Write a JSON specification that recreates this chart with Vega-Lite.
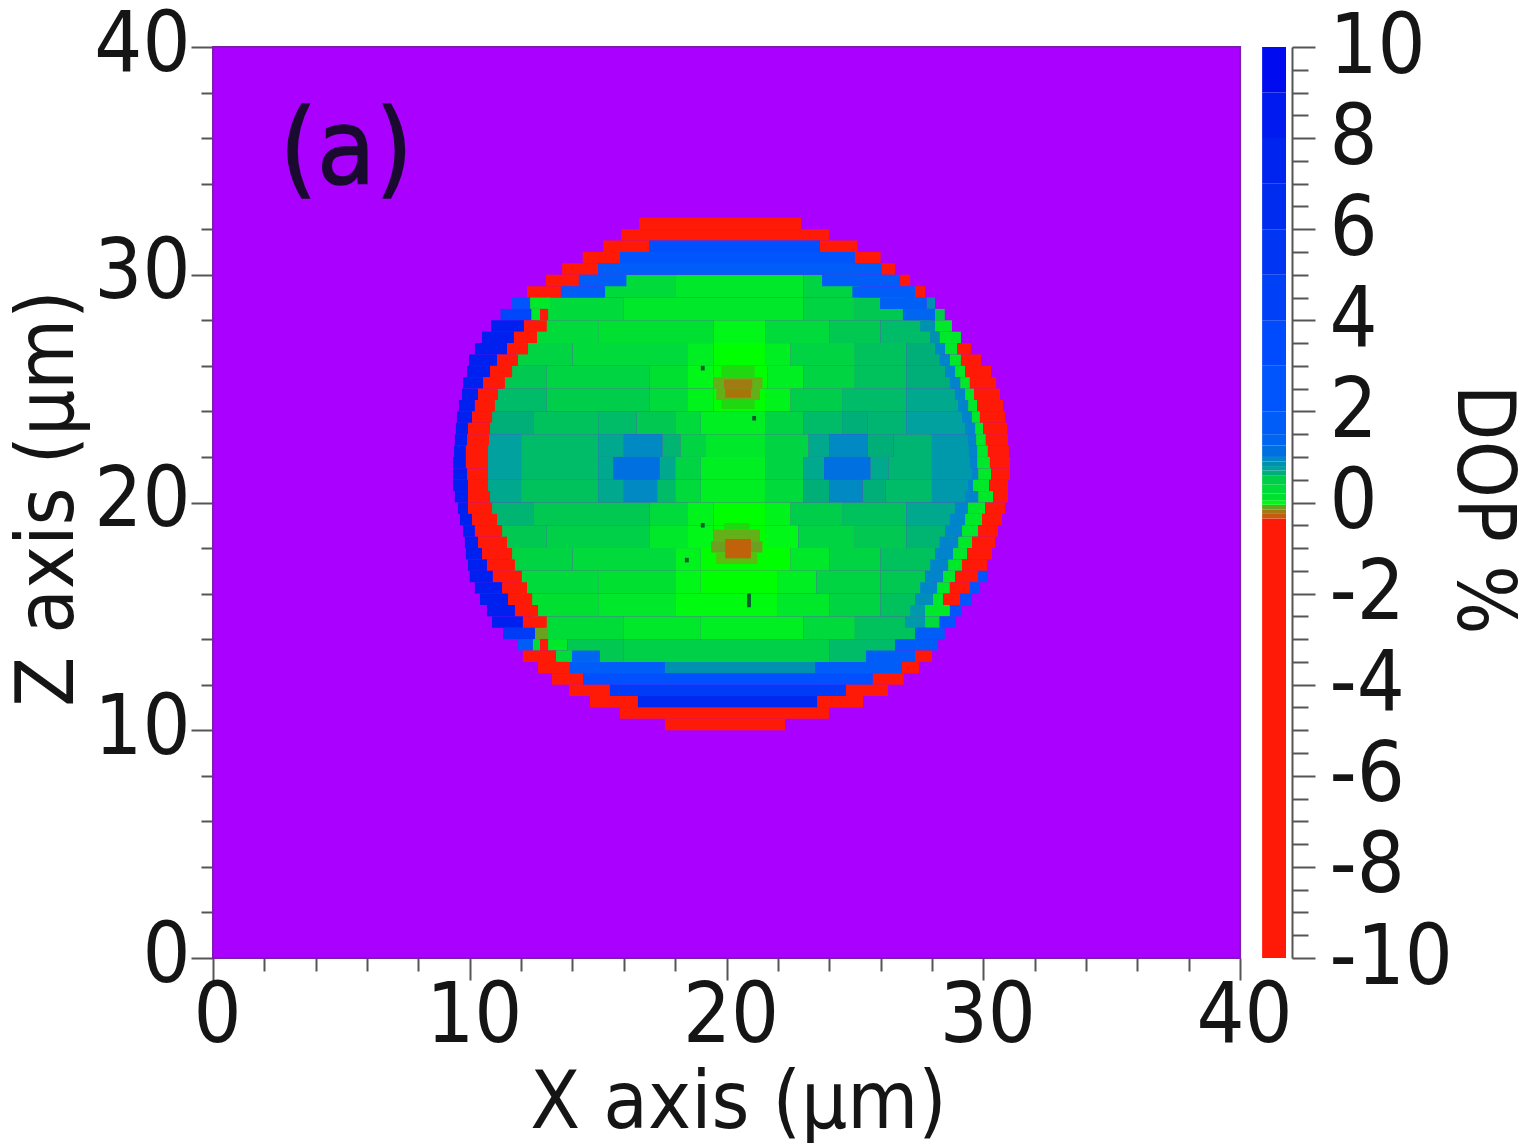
{
"$schema":"https://vega.github.io/schema/vega-lite/v6.json",
"padding":{"left":7,"top":3,"right":0,"bottom":0},
"background":"white",
"width":1073,
"height":911,
"config":{"view":{"stroke":null},"font":"DejaVu Sans Condensed","axis":{"labelFont":"DejaVu Sans Condensed","titleFont":"DejaVu Sans Condensed","labelFontSize":84,"titleFontSize":81,"labelColor":"#151515","titleColor":"#151515","titleFontWeight":"normal","labelFlush":false,"grid":false,"tickColor":"#555555","tickWidth":2,"domainColor":"#555555","domainWidth":2}},
"datasets":{
"plate":[{"x0":0,"x1":40,"z0":0,"z1":40}],
"tag":[{"x":2.6,"z":35.4,"label":"(a)"}],
"specks":[{"x0":19.0,"x1":19.15,"z0":25.8,"z1":26.0},{"x0":21.0,"x1":21.15,"z0":23.6,"z1":23.8},{"x0":19.0,"x1":19.15,"z0":18.9,"z1":19.1},{"x0":18.38,"x1":18.53,"z0":17.37,"z1":17.57},{"x0":20.8,"x1":20.95,"z0":15.4,"z1":16.0}],
"bar":[{"x0":40.86,"x1":41.79,"v0":-10,"v1":-0.35,"dop":-5},{"x0":40.86,"x1":41.79,"v0":-0.35,"v1":-0.25,"dop":-0.3},{"x0":40.86,"x1":41.79,"v0":-0.25,"v1":-0.15,"dop":-0.2},{"x0":40.86,"x1":41.79,"v0":-0.15,"v1":-0.05,"dop":-0.1},{"x0":40.86,"x1":41.79,"v0":-0.05,"v1":0.05,"dop":0.1},{"x0":40.86,"x1":41.79,"v0":0.05,"v1":0.2,"dop":0.25},{"x0":40.86,"x1":41.79,"v0":0.2,"v1":0.4,"dop":0.3},{"x0":40.86,"x1":41.79,"v0":0.4,"v1":0.6,"dop":0.4},{"x0":40.86,"x1":41.79,"v0":0.6,"v1":0.7,"dop":0.65},{"x0":40.86,"x1":41.79,"v0":0.7,"v1":0.8,"dop":0.75},{"x0":40.86,"x1":41.79,"v0":0.8,"v1":0.9,"dop":0.85},{"x0":40.86,"x1":41.79,"v0":0.9,"v1":1,"dop":0.95},{"x0":40.86,"x1":41.79,"v0":1,"v1":1.25,"dop":1.15},{"x0":40.86,"x1":41.79,"v0":1.25,"v1":1.5,"dop":1.4},{"x0":40.86,"x1":41.79,"v0":1.5,"v1":2,"dop":1.8},{"x0":40.86,"x1":41.79,"v0":2,"v1":3,"dop":2.5},{"x0":40.86,"x1":41.79,"v0":3,"v1":4,"dop":3.5},{"x0":40.86,"x1":41.79,"v0":4,"v1":5,"dop":4.5},{"x0":40.86,"x1":41.79,"v0":5,"v1":6,"dop":5.5},{"x0":40.86,"x1":41.79,"v0":6,"v1":7,"dop":6.5},{"x0":40.86,"x1":41.79,"v0":7,"v1":8,"dop":7.5},{"x0":40.86,"x1":41.79,"v0":8,"v1":9,"dop":8.5},{"x0":40.86,"x1":41.79,"v0":9,"v1":10,"dop":9.5}],
"cells":[
{"x0":15.2,"x1":18,"z0":29,"z1":30,"dop":0.3},{"x0":18,"x1":23,"z0":29,"z1":30,"dop":0.2},{"x0":23,"x1":25.2,"z0":29,"z1":30,"dop":0.35},
{"x0":13,"x1":16,"z0":28,"z1":29,"dop":0.3},{"x0":16,"x1":23,"z0":28,"z1":29,"dop":0.2},{"x0":23,"x1":25,"z0":28,"z1":29,"dop":0.35},{"x0":25,"x1":27,"z0":28,"z1":29,"dop":0.45},
{"x0":12.6,"x1":15,"z0":27,"z1":28,"dop":0.3},{"x0":15,"x1":19.5,"z0":27,"z1":28,"dop":0.25},{"x0":19.5,"x1":21.5,"z0":27,"z1":28,"dop":0.1},{"x0":21.5,"x1":24,"z0":27,"z1":28,"dop":0.3},{"x0":24,"x1":26,"z0":27,"z1":28,"dop":0.45},{"x0":26,"x1":28,"z0":27,"z1":28,"dop":0.55},
{"x0":11.8,"x1":14,"z0":26,"z1":27,"dop":0.35},{"x0":14,"x1":18.5,"z0":26,"z1":27,"dop":0.3},{"x0":18.5,"x1":19.5,"z0":26,"z1":27,"dop":0.15},{"x0":19.5,"x1":21.5,"z0":26,"z1":27,"dop":0.05},{"x0":21.5,"x1":22.5,"z0":26,"z1":27,"dop":0.15},{"x0":22.5,"x1":25,"z0":26,"z1":27,"dop":0.35},{"x0":25,"x1":27,"z0":26,"z1":27,"dop":0.5},{"x0":27,"x1":28.4,"z0":26,"z1":27,"dop":0.65},
{"x0":11.3,"x1":13,"z0":25,"z1":26,"dop":0.45},{"x0":13,"x1":17,"z0":25,"z1":26,"dop":0.35},{"x0":17,"x1":18.5,"z0":25,"z1":26,"dop":0.25},{"x0":18.5,"x1":19.5,"z0":25,"z1":26,"dop":0.1},{"x0":19.5,"x1":21.6,"z0":25,"z1":26,"dop":0.05},{"x0":21.6,"x1":23,"z0":25,"z1":26,"dop":0.15},{"x0":23,"x1":25,"z0":25,"z1":26,"dop":0.35},{"x0":25,"x1":27,"z0":25,"z1":26,"dop":0.5},{"x0":27,"x1":28.8,"z0":25,"z1":26,"dop":0.65},
{"x0":10.9,"x1":13,"z0":24,"z1":25,"dop":0.55},{"x0":13,"x1":17,"z0":24,"z1":25,"dop":0.4},{"x0":17,"x1":18.5,"z0":24,"z1":25,"dop":0.3},{"x0":18.5,"x1":19.5,"z0":24,"z1":25,"dop":0.12},{"x0":19.5,"x1":21.5,"z0":24,"z1":25,"dop":0.05},{"x0":21.5,"x1":22.5,"z0":24,"z1":25,"dop":0.12},{"x0":22.5,"x1":24.5,"z0":24,"z1":25,"dop":0.4},{"x0":24.5,"x1":27,"z0":24,"z1":25,"dop":0.55},{"x0":27,"x1":29.2,"z0":24,"z1":25,"dop":0.7},
{"x0":10.75,"x1":12.5,"z0":23,"z1":24,"dop":0.65},{"x0":12.5,"x1":15,"z0":23,"z1":24,"dop":0.5},{"x0":15,"x1":16.5,"z0":23,"z1":24,"dop":0.55},{"x0":16.5,"x1":18,"z0":23,"z1":24,"dop":0.45},{"x0":18,"x1":19,"z0":23,"z1":24,"dop":0.3},{"x0":19,"x1":21.5,"z0":23,"z1":24,"dop":0.15},{"x0":21.5,"x1":23,"z0":23,"z1":24,"dop":0.35},{"x0":23,"x1":24.5,"z0":23,"z1":24,"dop":0.55},{"x0":24.5,"x1":25.5,"z0":23,"z1":24,"dop":0.65},{"x0":25.5,"x1":27,"z0":23,"z1":24,"dop":0.6},{"x0":27,"x1":29.4,"z0":23,"z1":24,"dop":0.75},
{"x0":10.7,"x1":12,"z0":22,"z1":23,"dop":0.75},{"x0":12,"x1":15,"z0":22,"z1":23,"dop":0.55},{"x0":15,"x1":16,"z0":22,"z1":23,"dop":0.7},{"x0":16,"x1":17.5,"z0":22,"z1":23,"dop":0.95},{"x0":17.5,"x1":18.2,"z0":22,"z1":23,"dop":0.6},{"x0":18.2,"x1":19.2,"z0":22,"z1":23,"dop":0.35},{"x0":19.2,"x1":21.5,"z0":22,"z1":23,"dop":0.2},{"x0":21.5,"x1":23.2,"z0":22,"z1":23,"dop":0.35},{"x0":23.2,"x1":24,"z0":22,"z1":23,"dop":0.7},{"x0":24,"x1":25.5,"z0":22,"z1":23,"dop":0.95},{"x0":25.5,"x1":26.5,"z0":22,"z1":23,"dop":0.65},{"x0":26.5,"x1":28,"z0":22,"z1":23,"dop":0.6},{"x0":28,"x1":29.5,"z0":22,"z1":23,"dop":0.8},
{"x0":10.7,"x1":12,"z0":21,"z1":22,"dop":0.75},{"x0":12,"x1":15,"z0":21,"z1":22,"dop":0.55},{"x0":15,"x1":15.6,"z0":21,"z1":22,"dop":0.7},{"x0":15.6,"x1":17.4,"z0":21,"z1":22,"dop":1.15},{"x0":17.4,"x1":18,"z0":21,"z1":22,"dop":0.7},{"x0":18,"x1":19,"z0":21,"z1":22,"dop":0.35},{"x0":19,"x1":21.5,"z0":21,"z1":22,"dop":0.15},{"x0":21.5,"x1":23,"z0":21,"z1":22,"dop":0.35},{"x0":23,"x1":23.8,"z0":21,"z1":22,"dop":0.7},{"x0":23.8,"x1":25.6,"z0":21,"z1":22,"dop":1.15},{"x0":25.6,"x1":26.3,"z0":21,"z1":22,"dop":0.7},{"x0":26.3,"x1":28,"z0":21,"z1":22,"dop":0.6},{"x0":28,"x1":29.6,"z0":21,"z1":22,"dop":0.8},
{"x0":10.7,"x1":12,"z0":20,"z1":21,"dop":0.7},{"x0":12,"x1":15,"z0":20,"z1":21,"dop":0.5},{"x0":15,"x1":16,"z0":20,"z1":21,"dop":0.7},{"x0":16,"x1":17.3,"z0":20,"z1":21,"dop":0.95},{"x0":17.3,"x1":18,"z0":20,"z1":21,"dop":0.55},{"x0":18,"x1":19,"z0":20,"z1":21,"dop":0.3},{"x0":19,"x1":21.5,"z0":20,"z1":21,"dop":0.15},{"x0":21.5,"x1":23,"z0":20,"z1":21,"dop":0.3},{"x0":23,"x1":24,"z0":20,"z1":21,"dop":0.65},{"x0":24,"x1":25.3,"z0":20,"z1":21,"dop":0.95},{"x0":25.3,"x1":26.2,"z0":20,"z1":21,"dop":0.65},{"x0":26.2,"x1":28,"z0":20,"z1":21,"dop":0.55},{"x0":28,"x1":29.5,"z0":20,"z1":21,"dop":0.8},
{"x0":10.8,"x1":12.5,"z0":19,"z1":20,"dop":0.6},{"x0":12.5,"x1":17,"z0":19,"z1":20,"dop":0.45},{"x0":17,"x1":18.5,"z0":19,"z1":20,"dop":0.3},{"x0":18.5,"x1":19.5,"z0":19,"z1":20,"dop":0.12},{"x0":19.5,"x1":21.5,"z0":19,"z1":20,"dop":0.05},{"x0":21.5,"x1":22.5,"z0":19,"z1":20,"dop":0.12},{"x0":22.5,"x1":24.5,"z0":19,"z1":20,"dop":0.4},{"x0":24.5,"x1":27,"z0":19,"z1":20,"dop":0.5},{"x0":27,"x1":29.3,"z0":19,"z1":20,"dop":0.7},
{"x0":11.2,"x1":13,"z0":18,"z1":19,"dop":0.45},{"x0":13,"x1":17,"z0":18,"z1":19,"dop":0.38},{"x0":17,"x1":18.5,"z0":18,"z1":19,"dop":0.2},{"x0":18.5,"x1":19.5,"z0":18,"z1":19,"dop":0.1},{"x0":19.5,"x1":21.5,"z0":18,"z1":19,"dop":0.05},{"x0":21.5,"x1":22.8,"z0":18,"z1":19,"dop":0.1},{"x0":22.8,"x1":25,"z0":18,"z1":19,"dop":0.35},{"x0":25,"x1":27,"z0":18,"z1":19,"dop":0.45},{"x0":27,"x1":28.9,"z0":18,"z1":19,"dop":0.6},
{"x0":11.6,"x1":14,"z0":17,"z1":18,"dop":0.35},{"x0":14,"x1":18,"z0":17,"z1":18,"dop":0.3},{"x0":18,"x1":19,"z0":17,"z1":18,"dop":0.12},{"x0":19,"x1":22.5,"z0":17,"z1":18,"dop":0.05},{"x0":22.5,"x1":24,"z0":17,"z1":18,"dop":0.2},{"x0":24,"x1":26,"z0":17,"z1":18,"dop":0.35},{"x0":26,"x1":28.3,"z0":17,"z1":18,"dop":0.5},
{"x0":12,"x1":15,"z0":16,"z1":17,"dop":0.3},{"x0":15,"x1":18,"z0":16,"z1":17,"dop":0.25},{"x0":18,"x1":19,"z0":16,"z1":17,"dop":0.1},{"x0":19,"x1":22,"z0":16,"z1":17,"dop":0.05},{"x0":22,"x1":23.5,"z0":16,"z1":17,"dop":0.15},{"x0":23.5,"x1":26,"z0":16,"z1":17,"dop":0.35},{"x0":26,"x1":28,"z0":16,"z1":17,"dop":0.45},
{"x0":12.4,"x1":15,"z0":15,"z1":16,"dop":0.25},{"x0":15,"x1":18,"z0":15,"z1":16,"dop":0.2},{"x0":18,"x1":22,"z0":15,"z1":16,"dop":0.08},{"x0":22,"x1":24,"z0":15,"z1":16,"dop":0.2},{"x0":24,"x1":26,"z0":15,"z1":16,"dop":0.35},{"x0":26,"x1":27.7,"z0":15,"z1":16,"dop":0.5},
{"x0":12.95,"x1":16,"z0":14,"z1":15,"dop":0.28},{"x0":16,"x1":19,"z0":14,"z1":15,"dop":0.2},{"x0":19,"x1":23,"z0":14,"z1":15,"dop":0.15},{"x0":23,"x1":25,"z0":14,"z1":15,"dop":0.3},{"x0":25,"x1":27.4,"z0":14,"z1":15,"dop":0.5},
{"x0":13.8,"x1":16,"z0":13,"z1":14,"dop":0.45},{"x0":16,"x1":24,"z0":13,"z1":14,"dop":0.38},{"x0":24,"x1":26.6,"z0":13,"z1":14,"dop":0.55},
{"x0":15,"x1":25.5,"z0":12.5,"z1":13,"dop":0.85},
{"x0":19.8,"x1":21.1,"z0":25.5,"z1":26,"dop":-0.03},{"x0":19.5,"x1":21.4,"z0":25,"z1":25.5,"dop":-0.08},{"x0":19.6,"x1":21.3,"z0":24.5,"z1":25,"dop":-0.08},{"x0":19.9,"x1":21,"z0":25,"z1":25.4,"dop":-0.2},{"x0":19.95,"x1":20.95,"z0":24.6,"z1":25,"dop":-0.22},{"x0":19.8,"x1":21.1,"z0":24.1,"z1":24.5,"dop":-0.03},
{"x0":19.9,"x1":20.9,"z0":18.8,"z1":19.1,"dop":-0.03},{"x0":19.5,"x1":21.3,"z0":18.3,"z1":18.8,"dop":-0.08},{"x0":19.4,"x1":21.4,"z0":17.8,"z1":18.3,"dop":-0.1},{"x0":19.6,"x1":21.2,"z0":17.3,"z1":17.8,"dop":-0.06},{"x0":19.95,"x1":20.95,"z0":17.55,"z1":18.4,"dop":-0.28},
{"x0":16.6,"x1":22.9,"z0":32,"z1":32.5,"dop":-5},
{"x0":15.9,"x1":24,"z0":31.5,"z1":32,"dop":-5},
{"x0":15.2,"x1":17,"z0":31,"z1":31.5,"dop":-5},{"x0":17,"x1":23.64,"z0":31,"z1":31.5,"dop":3},{"x0":23.64,"x1":25.1,"z0":31,"z1":31.5,"dop":-5},
{"x0":14.4,"x1":15.85,"z0":30.5,"z1":31,"dop":-5},{"x0":15.85,"x1":25,"z0":30.5,"z1":31,"dop":2.5},{"x0":25,"x1":26,"z0":30.5,"z1":31,"dop":-5},
{"x0":13.6,"x1":15,"z0":30,"z1":30.5,"dop":-5},{"x0":15,"x1":26.05,"z0":30,"z1":30.5,"dop":1.8},{"x0":26.05,"x1":26.56,"z0":30,"z1":30.5,"dop":-5},
{"x0":12.97,"x1":14.25,"z0":29.5,"z1":30,"dop":-5},{"x0":14.25,"x1":16.1,"z0":29.5,"z1":30,"dop":1.8},{"x0":23.72,"x1":26.76,"z0":29.5,"z1":30,"dop":1.8},{"x0":26.76,"x1":27.15,"z0":29.5,"z1":30,"dop":-5},
{"x0":12.23,"x1":13.55,"z0":29,"z1":29.5,"dop":-5},{"x0":13.55,"x1":15.27,"z0":29,"z1":29.5,"dop":1.8},{"x0":24.9,"x1":27.34,"z0":29,"z1":29.5,"dop":1.8},{"x0":27.34,"x1":27.73,"z0":29,"z1":29.5,"dop":-5},
{"x0":11.65,"x1":12.35,"z0":28.5,"z1":29,"dop":2.5},{"x0":12.35,"x1":13.13,"z0":28.5,"z1":29,"dop":0.2},{"x0":25.98,"x1":27.8,"z0":28.5,"z1":29,"dop":1.5},{"x0":27.8,"x1":28.12,"z0":28.5,"z1":29,"dop":0.85},
{"x0":11.2,"x1":12.4,"z0":28,"z1":28.5,"dop":4},{"x0":12.4,"x1":12.74,"z0":28,"z1":28.5,"dop":0.2},{"x0":12.74,"x1":13.05,"z0":28,"z1":28.5,"dop":-5},{"x0":26.87,"x1":28.12,"z0":28,"z1":28.5,"dop":1.4},{"x0":28.12,"x1":28.5,"z0":28,"z1":28.5,"dop":0.4},
{"x0":10.83,"x1":12.11,"z0":27.5,"z1":28,"dop":8},{"x0":12.11,"x1":13,"z0":27.5,"z1":28,"dop":-5},{"x0":27.54,"x1":28.12,"z0":27.5,"z1":28,"dop":0.85},{"x0":28.12,"x1":28.78,"z0":27.5,"z1":28,"dop":0.2},
{"x0":10.48,"x1":11.72,"z0":27,"z1":27.5,"dop":8},{"x0":11.72,"x1":12.62,"z0":27,"z1":27.5,"dop":-5},{"x0":27.93,"x1":28.3,"z0":27,"z1":27.5,"dop":0.85},{"x0":28.3,"x1":29.13,"z0":27,"z1":27.5,"dop":0.2},
{"x0":10.2,"x1":11.45,"z0":26.5,"z1":27,"dop":8},{"x0":11.45,"x1":12.27,"z0":26.5,"z1":27,"dop":-5},{"x0":28.12,"x1":28.51,"z0":26.5,"z1":27,"dop":1},{"x0":28.51,"x1":28.98,"z0":26.5,"z1":27,"dop":0.2},{"x0":28.98,"x1":29.52,"z0":26.5,"z1":27,"dop":-5},
{"x0":9.97,"x1":11.06,"z0":26,"z1":26.5,"dop":8},{"x0":11.06,"x1":11.88,"z0":26,"z1":26.5,"dop":-5},{"x0":28.3,"x1":28.7,"z0":26,"z1":26.5,"dop":1},{"x0":28.7,"x1":29.13,"z0":26,"z1":26.5,"dop":0.2},{"x0":29.13,"x1":29.91,"z0":26,"z1":26.5,"dop":-5},
{"x0":9.9,"x1":10.79,"z0":25.5,"z1":26,"dop":8},{"x0":10.79,"x1":11.65,"z0":25.5,"z1":26,"dop":-5},{"x0":28.51,"x1":28.9,"z0":25.5,"z1":26,"dop":1},{"x0":28.9,"x1":29.29,"z0":25.5,"z1":26,"dop":0.2},{"x0":29.29,"x1":30.3,"z0":25.5,"z1":26,"dop":-5},
{"x0":9.74,"x1":10.52,"z0":25,"z1":25.5,"dop":8},{"x0":10.52,"x1":11.37,"z0":25,"z1":25.5,"dop":-5},{"x0":28.7,"x1":29.1,"z0":25,"z1":25.5,"dop":1},{"x0":29.1,"x1":29.48,"z0":25,"z1":25.5,"dop":0.2},{"x0":29.48,"x1":30.5,"z0":25,"z1":25.5,"dop":-5},
{"x0":9.7,"x1":10.32,"z0":24.5,"z1":25,"dop":8},{"x0":10.32,"x1":11.1,"z0":24.5,"z1":25,"dop":-5},{"x0":28.9,"x1":29.29,"z0":24.5,"z1":25,"dop":1},{"x0":29.29,"x1":29.64,"z0":24.5,"z1":25,"dop":0.2},{"x0":29.64,"x1":30.65,"z0":24.5,"z1":25,"dop":-5},
{"x0":9.58,"x1":10.2,"z0":24,"z1":24.5,"dop":8},{"x0":10.2,"x1":10.98,"z0":24,"z1":24.5,"dop":-5},{"x0":29.02,"x1":29.41,"z0":24,"z1":24.5,"dop":1},{"x0":29.41,"x1":29.76,"z0":24,"z1":24.5,"dop":0.2},{"x0":29.76,"x1":30.77,"z0":24,"z1":24.5,"dop":-5},
{"x0":9.5,"x1":10.09,"z0":23.5,"z1":24,"dop":8},{"x0":10.09,"x1":10.87,"z0":23.5,"z1":24,"dop":-5},{"x0":29.17,"x1":29.56,"z0":23.5,"z1":24,"dop":1},{"x0":29.56,"x1":29.87,"z0":23.5,"z1":24,"dop":0.2},{"x0":29.87,"x1":30.85,"z0":23.5,"z1":24,"dop":-5},
{"x0":9.46,"x1":9.93,"z0":23,"z1":23.5,"dop":8},{"x0":9.93,"x1":10.79,"z0":23,"z1":23.5,"dop":-5},{"x0":29.29,"x1":29.68,"z0":23,"z1":23.5,"dop":1},{"x0":29.68,"x1":29.99,"z0":23,"z1":23.5,"dop":0.2},{"x0":29.99,"x1":30.93,"z0":23,"z1":23.5,"dop":-5},
{"x0":9.42,"x1":9.9,"z0":22.5,"z1":23,"dop":8},{"x0":9.9,"x1":10.75,"z0":22.5,"z1":23,"dop":-5},{"x0":29.4,"x1":29.72,"z0":22.5,"z1":23,"dop":1},{"x0":29.72,"x1":30.1,"z0":22.5,"z1":23,"dop":0.2},{"x0":30.1,"x1":30.96,"z0":22.5,"z1":23,"dop":-5},
{"x0":9.39,"x1":9.85,"z0":22,"z1":22.5,"dop":8},{"x0":9.85,"x1":10.71,"z0":22,"z1":22.5,"dop":-5},{"x0":29.44,"x1":29.76,"z0":22,"z1":22.5,"dop":1},{"x0":29.76,"x1":30.18,"z0":22,"z1":22.5,"dop":0.2},{"x0":30.18,"x1":31,"z0":22,"z1":22.5,"dop":-5},
{"x0":9.35,"x1":9.85,"z0":21.5,"z1":22,"dop":8},{"x0":9.85,"x1":10.71,"z0":21.5,"z1":22,"dop":-5},{"x0":29.48,"x1":29.76,"z0":21.5,"z1":22,"dop":1},{"x0":29.76,"x1":30.26,"z0":21.5,"z1":22,"dop":0.2},{"x0":30.26,"x1":31.04,"z0":21.5,"z1":22,"dop":-5},
{"x0":9.35,"x1":9.9,"z0":21,"z1":21.5,"dop":8},{"x0":9.9,"x1":10.71,"z0":21,"z1":21.5,"dop":-5},{"x0":29.56,"x1":29.8,"z0":21,"z1":21.5,"dop":1},{"x0":29.8,"x1":30.3,"z0":21,"z1":21.5,"dop":0.2},{"x0":30.3,"x1":31.04,"z0":21,"z1":21.5,"dop":-5},
{"x0":9.35,"x1":9.93,"z0":20.5,"z1":21,"dop":8},{"x0":9.93,"x1":10.71,"z0":20.5,"z1":21,"dop":-5},{"x0":29.4,"x1":29.6,"z0":20.5,"z1":21,"dop":1},{"x0":29.6,"x1":30.23,"z0":20.5,"z1":21,"dop":0.2},{"x0":30.23,"x1":30.96,"z0":20.5,"z1":21,"dop":-5},
{"x0":9.42,"x1":9.93,"z0":20,"z1":20.5,"dop":8},{"x0":9.93,"x1":10.79,"z0":20,"z1":20.5,"dop":-5},{"x0":29.3,"x1":29.8,"z0":20,"z1":20.5,"dop":1},{"x0":29.8,"x1":30.38,"z0":20,"z1":20.5,"dop":0.2},{"x0":30.38,"x1":30.96,"z0":20,"z1":20.5,"dop":-5},
{"x0":9.54,"x1":9.93,"z0":19.5,"z1":20,"dop":8},{"x0":9.93,"x1":10.87,"z0":19.5,"z1":20,"dop":-5},{"x0":28.9,"x1":29.4,"z0":19.5,"z1":20,"dop":1},{"x0":29.4,"x1":30.07,"z0":19.5,"z1":20,"dop":0.2},{"x0":30.07,"x1":30.85,"z0":19.5,"z1":20,"dop":-5},
{"x0":9.62,"x1":10.09,"z0":19,"z1":19.5,"dop":8},{"x0":10.09,"x1":11.06,"z0":19,"z1":19.5,"dop":-5},{"x0":28.7,"x1":29.29,"z0":19,"z1":19.5,"dop":1},{"x0":29.29,"x1":29.95,"z0":19,"z1":19.5,"dop":0.2},{"x0":29.95,"x1":30.73,"z0":19,"z1":19.5,"dop":-5},
{"x0":9.74,"x1":10.2,"z0":18.5,"z1":19,"dop":8},{"x0":10.2,"x1":11.26,"z0":18.5,"z1":19,"dop":-5},{"x0":28.51,"x1":29.17,"z0":18.5,"z1":19,"dop":1},{"x0":29.17,"x1":29.8,"z0":18.5,"z1":19,"dop":0.2},{"x0":29.8,"x1":30.57,"z0":18.5,"z1":19,"dop":-5},
{"x0":9.81,"x1":10.32,"z0":18,"z1":18.5,"dop":8},{"x0":10.32,"x1":11.45,"z0":18,"z1":18.5,"dop":-5},{"x0":28.3,"x1":29.02,"z0":18,"z1":18.5,"dop":1},{"x0":29.02,"x1":29.56,"z0":18,"z1":18.5,"dop":0.2},{"x0":29.56,"x1":30.46,"z0":18,"z1":18.5,"dop":-5},
{"x0":9.85,"x1":10.48,"z0":17.5,"z1":18,"dop":8},{"x0":10.48,"x1":11.65,"z0":17.5,"z1":18,"dop":-5},{"x0":28.12,"x1":28.82,"z0":17.5,"z1":18,"dop":1},{"x0":28.82,"x1":29.37,"z0":17.5,"z1":18,"dop":0.2},{"x0":29.37,"x1":30.34,"z0":17.5,"z1":18,"dop":-5},
{"x0":9.93,"x1":10.67,"z0":17,"z1":17.5,"dop":8},{"x0":10.67,"x1":11.76,"z0":17,"z1":17.5,"dop":-5},{"x0":27.93,"x1":28.63,"z0":17,"z1":17.5,"dop":1},{"x0":28.63,"x1":29.17,"z0":17,"z1":17.5,"dop":0.2},{"x0":29.17,"x1":30.15,"z0":17,"z1":17.5,"dop":-5},
{"x0":10,"x1":10.9,"z0":16.5,"z1":17,"dop":8},{"x0":10.9,"x1":12.03,"z0":16.5,"z1":17,"dop":-5},{"x0":27.73,"x1":28.43,"z0":16.5,"z1":17,"dop":1},{"x0":28.43,"x1":28.9,"z0":16.5,"z1":17,"dop":0.2},{"x0":28.9,"x1":29.8,"z0":16.5,"z1":17,"dop":-5},{"x0":29.8,"x1":30.18,"z0":16.5,"z1":17,"dop":2.5},
{"x0":10.2,"x1":11.26,"z0":16,"z1":16.5,"dop":8},{"x0":11.26,"x1":12.23,"z0":16,"z1":16.5,"dop":-5},{"x0":27.54,"x1":28.2,"z0":16,"z1":16.5,"dop":1},{"x0":28.2,"x1":28.7,"z0":16,"z1":16.5,"dop":0.2},{"x0":28.7,"x1":29.48,"z0":16,"z1":16.5,"dop":-5},{"x0":29.48,"x1":29.87,"z0":16,"z1":16.5,"dop":2.5},
{"x0":10.4,"x1":11.49,"z0":15.5,"z1":16,"dop":8},{"x0":11.49,"x1":12.43,"z0":15.5,"z1":16,"dop":-5},{"x0":27.34,"x1":28.04,"z0":15.5,"z1":16,"dop":0.9},{"x0":28.04,"x1":28.43,"z0":15.5,"z1":16,"dop":0.2},{"x0":28.43,"x1":29.1,"z0":15.5,"z1":16,"dop":-5},{"x0":29.1,"x1":29.56,"z0":15.5,"z1":16,"dop":2.5},
{"x0":10.67,"x1":11.76,"z0":15,"z1":15.5,"dop":8},{"x0":11.76,"x1":12.66,"z0":15,"z1":15.5,"dop":-5},{"x0":27.15,"x1":27.73,"z0":15,"z1":15.5,"dop":0.8},{"x0":27.73,"x1":28.7,"z0":15,"z1":15.5,"dop":0.2},{"x0":28.7,"x1":29.17,"z0":15,"z1":15.5,"dop":2.5},
{"x0":10.87,"x1":12.07,"z0":14.5,"z1":15,"dop":8},{"x0":12.07,"x1":13,"z0":14.5,"z1":15,"dop":-5},{"x0":26.95,"x1":27.73,"z0":14.5,"z1":15,"dop":0.8},{"x0":27.73,"x1":28.3,"z0":14.5,"z1":15,"dop":0.3},{"x0":28.3,"x1":28.9,"z0":14.5,"z1":15,"dop":2.5},
{"x0":11.3,"x1":12.54,"z0":14,"z1":14.5,"dop":5},{"x0":12.54,"x1":13.05,"z0":14,"z1":14.5,"dop":-0.1},{"x0":27.34,"x1":28.5,"z0":14,"z1":14.5,"dop":1.8},
{"x0":11.88,"x1":12.46,"z0":13.5,"z1":14,"dop":1.8},{"x0":12.46,"x1":12.74,"z0":13.5,"z1":14,"dop":0.3},{"x0":12.74,"x1":13.05,"z0":13.5,"z1":14,"dop":-5},{"x0":13.05,"x1":13.79,"z0":13.5,"z1":14,"dop":0.2},{"x0":26.56,"x1":28.24,"z0":13.5,"z1":14,"dop":1.8},
{"x0":12.07,"x1":13.36,"z0":13,"z1":13.5,"dop":-5},{"x0":13.36,"x1":13.98,"z0":13,"z1":13.5,"dop":0.3},{"x0":13.98,"x1":15.07,"z0":13,"z1":13.5,"dop":1.4},{"x0":25.43,"x1":27.34,"z0":13,"z1":13.5,"dop":1.8},{"x0":27.34,"x1":28,"z0":13,"z1":13.5,"dop":-5},
{"x0":12.66,"x1":13.9,"z0":12.5,"z1":13,"dop":-5},{"x0":13.9,"x1":17.6,"z0":12.5,"z1":13,"dop":1.8},{"x0":23.45,"x1":26.83,"z0":12.5,"z1":13,"dop":1.8},{"x0":26.83,"x1":27.5,"z0":12.5,"z1":13,"dop":-5},
{"x0":13.2,"x1":14.41,"z0":12,"z1":12.5,"dop":-5},{"x0":14.41,"x1":25.7,"z0":12,"z1":12.5,"dop":3},{"x0":25.7,"x1":26.9,"z0":12,"z1":12.5,"dop":-5},
{"x0":13.87,"x1":15.46,"z0":11.5,"z1":12,"dop":-5},{"x0":15.46,"x1":24.65,"z0":11.5,"z1":12,"dop":5},{"x0":24.65,"x1":26.29,"z0":11.5,"z1":12,"dop":-5},
{"x0":14.68,"x1":16.55,"z0":11,"z1":11.5,"dop":-5},{"x0":16.55,"x1":23.53,"z0":11,"z1":11.5,"dop":7},{"x0":23.53,"x1":25.32,"z0":11,"z1":11.5,"dop":-5},
{"x0":15.85,"x1":23.99,"z0":10.5,"z1":11,"dop":-5},
{"x0":17.6,"x1":22.28,"z0":10,"z1":10.5,"dop":-5}
]
},
"resolve":{"axis":{"x":"independent","y":"independent"},"scale":{"y":"independent"}},
"layer":[
{"data":{"name":"plate"},"mark":{"type":"rect","color":"#AA00FF","stroke":"#7A20A8","strokeWidth":2},
"encoding":{
"x":{"field":"x0","type":"quantitative","scale":{"domain":[0,41.79],"nice":false},"axis":{"orient":"bottom","values":[0,10,20,30,40],"tickSize":22,"title":"X axis (µm)","titleX":525,"labelPadding":-5,"labelOffset":4,"titlePadding":5,"domain":false}},
"x2":{"field":"x1"},
"y":{"field":"z0","type":"quantitative","scale":{"domain":[0,40],"nice":false},"axis":{"orient":"left","values":[0,10,20,30,40],"tickSize":22,"title":"Z axis (µm)","titleY":451,"labelPadding":1,"labelOffset":-2,"titlePadding":4,"domain":false}},
"y2":{"field":"z1"}}},
{"data":{"name":"plate"},"mark":{"type":"rect","color":"#AA00FF","stroke":"#7A20A8","strokeWidth":2},
"encoding":{
"x":{"field":"x0","type":"quantitative","axis":{"orient":"bottom","values":[2,4,6,8,12,14,16,18,22,24,26,28,32,34,36,38],"tickSize":13,"labels":false,"title":null,"domain":false}},
"x2":{"field":"x1"},
"y":{"field":"z0","type":"quantitative","scale":{"domain":[0,40],"nice":false},"axis":{"orient":"left","values":[2,4,6,8,12,14,16,18,22,24,26,28,32,34,36,38],"tickSize":12,"labels":false,"title":null,"domain":false}},
"y2":{"field":"z1"}}},
{"data":{"name":"cells"},"mark":{"type":"rect","strokeWidth":0},
"encoding":{
"x":{"field":"x0","type":"quantitative","axis":null},
"x2":{"field":"x1"},
"y":{"field":"z0","type":"quantitative","scale":{"domain":[0,40],"nice":false},"axis":null},
"y2":{"field":"z1"},
"color":{"field":"dop","type":"quantitative","legend":null,"scale":{"domain":[-10,-0.35,-0.3,-0.2,-0.1,-0.03,0.05,0.25,0.45,0.65,0.85,1.15,1.5,3,6,10],"range":["#FF1A08","#FF1A08","#C85A10","#A07A12","#6CA020","#20D810","#00FF00","#00E030","#00C850","#00AE78","#0090B0","#0070E0","#0060F5","#0050FF","#0030F0","#0000F0"]}}}},
{"data":{"name":"specks"},"mark":{"type":"rect","color":"#0A5A30","strokeWidth":0},
"encoding":{
"x":{"field":"x0","type":"quantitative","axis":null},
"x2":{"field":"x1"},
"y":{"field":"z0","type":"quantitative","scale":{"domain":[0,40],"nice":false},"axis":null},
"y2":{"field":"z1"}}},
{"data":{"name":"tag"},"mark":{"type":"text","font":"DejaVu Sans Condensed","fontSize":106,"align":"left","baseline":"middle","color":"#1A0A30","stroke":"#1A0A30","strokeWidth":1.5},
"encoding":{
"x":{"field":"x","type":"quantitative","axis":null},
"y":{"field":"z","type":"quantitative","scale":{"domain":[0,40],"nice":false},"axis":null},
"text":{"field":"label"}}},
{"data":{"name":"bar"},"mark":{"type":"rect","strokeWidth":0},
"encoding":{
"x":{"field":"x0","type":"quantitative","axis":null},
"x2":{"field":"x1"},
"y":{"field":"v0","type":"quantitative","scale":{"domain":[-10,10],"nice":false},"axis":{"orient":"right","values":[-10,-8,-6,-4,-2,0,2,4,6,8,10],"tickSize":23,"offset":6,"title":"DOP %","titleAngle":90,"titleX":148,"titleY":462,"labelPadding":14,"labelAlign":"left","labelExpr":"replace(datum.label, '−', '-')"}},
"y2":{"field":"v1"},
"color":{"field":"dop","type":"quantitative","legend":null}}},
{"data":{"name":"bar"},"mark":{"type":"rect","opacity":0},
"encoding":{
"x":{"field":"x0","type":"quantitative","axis":null},
"x2":{"field":"x1"},
"y":{"field":"v0","type":"quantitative","scale":{"domain":[-10,10],"nice":false},"axis":{"orient":"right","values":[-9.5,-9,-8.5,-7.5,-7,-6.5,-5.5,-5,-4.5,-3.5,-3,-2.5,-1.5,-1,-0.5,0.5,1,1.5,2.5,3,3.5,4.5,5,5.5,6.5,7,7.5,8.5,9,9.5],"tickSize":16,"offset":6,"labels":false,"title":null,"domain":false}},
"y2":{"field":"v1"}}}
]
}
